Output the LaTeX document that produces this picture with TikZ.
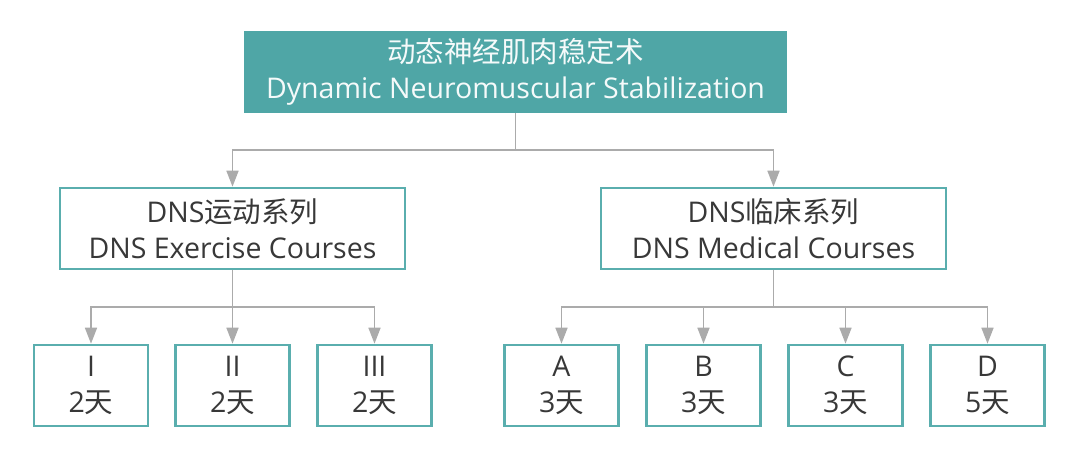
\documentclass[tikz,border=0pt]{standalone}
\usepackage{fontspec}
\setmainfont{Open Sans}
\newfontfamily\cjk{Noto Sans CJK SC}
\usetikzlibrary{arrows.meta}
\definecolor{teal1}{HTML}{4FA6A6}
\definecolor{tealb}{HTML}{5AAEAE}
\definecolor{txt}{HTML}{383838}
\definecolor{conn}{HTML}{ABABAB}
\tikzset{
  base/.style={rectangle, align=center, inner sep=0pt, font=\fontsize{28.5}{36}\selectfont},
  topbox/.style={base, fill=teal1, draw=none, text=white!94!teal1, minimum width=543pt, minimum height=82pt},
  midbox/.style={base, draw=tealb, line width=2.6pt, fill=white, text=txt, minimum width=345pt, minimum height=81pt},
  leaf/.style={base, draw=tealb, line width=2.6pt, fill=white, text=txt, minimum width=114pt, minimum height=81pt},
  link/.style={draw=conn, line width=1.6pt},
  arr/.style={link, -{Triangle[width=12pt,length=16pt]}}
}
\begin{document}
\begin{tikzpicture}[x=1pt,y=-1pt]
\useasboundingbox (0,0) rectangle (1072,468);
\node[topbox] (top) at (515.5,72) {{\cjk 动态神经肌肉稳定术}\\Dynamic Neuromuscular Stabilization};
\node[midbox] (ml) at (232.5,228.5) {DNS{\cjk 运动系列}\\DNS Exercise Courses};
\node[midbox] (mr) at (773.5,228.5) {DNS{\cjk 临床系列}\\DNS Medical Courses};
\node[leaf] (l1) at (91,385.5) {I\\2{\cjk 天}};
\node[leaf] (l2) at (232.5,385.5) {II\\2{\cjk 天}};
\node[leaf] (l3) at (374.5,385.5) {III\\2{\cjk 天}};
\node[leaf] (r1) at (561.5,385.5) {A\\3{\cjk 天}};
\node[leaf] (r2) at (703.5,385.5) {B\\3{\cjk 天}};
\node[leaf] (r3) at (845.5,385.5) {C\\3{\cjk 天}};
\node[leaf] (r4) at (987.5,385.5) {D\\5{\cjk 天}};
\coordinate (j0) at (515.5,150);
\coordinate (jl) at (232.5,307);
\coordinate (jr) at (773.5,307);
\draw[link] (top.south) -- (j0);
\draw[arr] (j0) -| (ml.north);
\draw[arr] (j0) -| (mr.north);
\draw[link] (ml.south) -- (jl);
\draw[arr] (jl) -| (l1.north);
\draw[arr] (jl) -- (l2.north);
\draw[arr] (jl) -| (l3.north);
\draw[link] (mr.south) -- (jr);
\draw[arr] (jr) -| (r1.north);
\draw[arr] (jr) -| (r2.north);
\draw[arr] (jr) -| (r3.north);
\draw[arr] (jr) -| (r4.north);
\end{tikzpicture}
\end{document}
